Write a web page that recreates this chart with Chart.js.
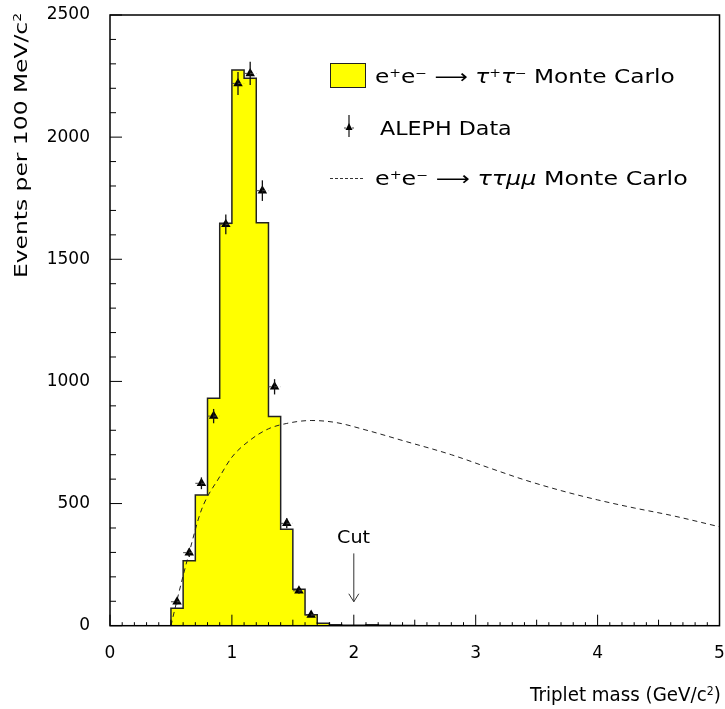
<!DOCTYPE html>
<html>
<head>
<meta charset="utf-8">
<script src="https://cdn.jsdelivr.net/npm/chart.js@4.4.1/dist/chart.umd.min.js"></script>
<style>
  body { margin: 0; background: #fff; }
  #wrap { position: relative; width: 725px; height: 709px; }
  #wrap canvas { position: absolute; left: 0; top: 0; }
  .txt { position: absolute; white-space: nowrap; font-family: "DejaVu Sans", sans-serif; color: #000; line-height: 1; }
  .txt sup { font-size: 0.6em; vertical-align: 0.55em; line-height: 0; }
  .swatch { position: absolute; left: 330px; top: 63px; width: 34px; height: 23px; background: #ffff00; border: 1px solid #222; }
  .dash { position: absolute; left: 330px; top: 178px; width: 33px; border-top: 1px dashed #333; }
</style>
</head>
<body>
<div id="wrap">
  <canvas id="chart" width="725" height="709"></canvas>
  <div class="swatch"></div>
  <svg style="position:absolute;left:340px;top:112px" width="20" height="28">
    <line x1="9" y1="3" x2="9" y2="25" stroke="#111" stroke-width="1.2"/>
    <line x1="4" y1="16" x2="14" y2="16" stroke="#444" stroke-width="1" stroke-dasharray="2,2"/>
    <polygon points="9,11 12.5,18 5.5,18" fill="#000"/>
  </svg>
  <div class="dash"></div>
  <div class="txt" id="leg1" style="font-size:19px">e<sup>+</sup>e<sup>−</sup> <span>⟶</span> <i>τ</i><sup>+</sup><i>τ</i><sup>−</sup> Monte Carlo</div>
  <div class="txt" id="leg2" style="font-size:19px">ALEPH Data</div>
  <div class="txt" id="leg3" style="font-size:19px">e<sup>+</sup>e<sup>−</sup> <span>⟶</span> <i>ττμμ</i> Monte Carlo</div>
  <div class="txt" id="cut" style="font-size:18px">Cut</div>
  <div class="txt" id="xtitle" style="font-size:19px">Triplet mass (GeV/c<sup>2</sup>)</div>
  <div class="txt" id="ytitle" style="font-size:18px">Events per 100 MeV/c<sup>2</sup></div>
</div>
<script>
// tau+tau- Monte Carlo histogram, left bin edges (GeV/c^2) and counts
const binEdges = [0.5, 0.6, 0.7, 0.8, 0.9, 1.0, 1.1, 1.2, 1.3, 1.4, 1.5, 1.6, 1.7, 1.8, 1.9, 2.0, 2.1, 2.2, 2.3, 2.4];
const mcCounts = [71, 266, 535, 931, 1647, 2275, 2241, 1650, 856, 395, 149, 45, 10, 4, 2, 2, 4, 2, 1, 1];
const binWidth = 0.1;

// ALEPH data points
const dataMass = [0.55, 0.65, 0.75, 0.85, 0.95, 1.05, 1.15, 1.25, 1.35, 1.45, 1.55, 1.65];
const dataCounts = [98, 299, 583, 858, 1643, 2220, 2261, 1781, 978, 419, 143, 44];

// tau tau mu mu Monte Carlo (dashed curve)
const curveMass = [0.5, 0.55, 0.65, 0.75, 0.9, 1.0, 1.15, 1.3, 1.45, 1.65, 1.85, 2.1, 2.4, 2.8, 3.1, 3.4, 3.7, 4.0, 4.3, 4.6, 5.0];
const curveCounts = [0, 105, 300, 474, 610, 690, 760, 806, 828, 840, 832, 801, 758, 700, 648, 597, 553, 515, 482, 452, 405];

const cutMass = 2.0;
const xTicks = [0, 1, 2, 3, 4, 5];
const yTicks = [0, 500, 1000, 1500, 2000, 2500];

// build step points for the histogram
const histPoints = [{ x: 0, y: 0 }];
binEdges.forEach((e, i) => histPoints.push({ x: e, y: mcCounts[i] }));
histPoints.push({ x: binEdges[binEdges.length - 1] + binWidth, y: 0 });
histPoints.push({ x: 5, y: 0 });

const dataPoints = dataMass.map((m, i) => ({ x: m, y: dataCounts[i] }));
const curvePoints = curveMass.map((m, i) => ({ x: m, y: curveCounts[i] }));

const framePlugin = {
  id: "frame",
  afterDatasetsDraw(chart) {
    const ctx = chart.ctx, xs = chart.scales.x, ys = chart.scales.y;
    // error bars
    ctx.save();
    dataMass.forEach((m, i) => {
      const px = xs.getPixelForValue(m);
      const err = Math.sqrt(dataCounts[i]);
      ctx.strokeStyle = "#111";
      ctx.lineWidth = 1.3;
      ctx.setLineDash([]);
      ctx.beginPath();
      ctx.moveTo(px, ys.getPixelForValue(dataCounts[i] + err));
      ctx.lineTo(px, ys.getPixelForValue(dataCounts[i] - err));
      ctx.stroke();
      ctx.strokeStyle = "#444";
      ctx.lineWidth = 1;
      ctx.setLineDash([3, 3]);
      const py = ys.getPixelForValue(dataCounts[i]);
      ctx.beginPath();
      ctx.moveTo(xs.getPixelForValue(m - binWidth / 2), py);
      ctx.lineTo(xs.getPixelForValue(m + binWidth / 2), py);
      ctx.stroke();
    });
    ctx.restore();
  },
  afterDraw(chart) {
    const ctx = chart.ctx, a = chart.chartArea, xs = chart.scales.x, ys = chart.scales.y;
    ctx.save();
    ctx.strokeStyle = "#000";
    ctx.lineWidth = 1.5;
    ctx.strokeRect(a.left, a.top, a.right - a.left, a.bottom - a.top);
    ctx.lineWidth = 1;
    ctx.beginPath();
    for (let k = 0; k <= 50; k++) {
      const px = xs.getPixelForValue(k / 10);
      const len = k % 10 === 0 ? 11 : (k % 5 === 0 ? 6 : 3.5);
      ctx.moveTo(px, a.bottom);
      ctx.lineTo(px, a.bottom - len);
    }
    for (let v = 0; v <= 2500; v += 100) {
      const py = ys.getPixelForValue(v);
      const len = v % 500 === 0 ? 12 : 6;
      ctx.moveTo(a.left, py);
      ctx.lineTo(a.left + len, py);
    }
    ctx.stroke();
    // cut arrow
    const cx = xs.getPixelForValue(cutMass);
    const y1 = ys.getPixelForValue(296), y2 = ys.getPixelForValue(98);
    ctx.strokeStyle = "#333";
    ctx.beginPath();
    ctx.moveTo(cx, y1);
    ctx.lineTo(cx, y2);
    ctx.moveTo(cx - 5, y2 - 8);
    ctx.lineTo(cx, y2);
    ctx.lineTo(cx + 5, y2 - 8);
    ctx.stroke();
    ctx.restore();
  }
};

new Chart(document.getElementById("chart"), {
  type: "scatter",
  data: {
    datasets: [
      {
        label: "ALEPH Data",
        data: dataPoints,
        pointStyle: "triangle",
        pointRadius: 5.5,
        backgroundColor: "#000",
        borderColor: "#000",
        borderWidth: 0,
        order: 0
      },
      {
        type: "line",
        label: "ttmumu Monte Carlo",
        data: curvePoints,
        borderColor: "#222",
        borderWidth: 1,
        borderDash: [5, 4],
        pointRadius: 0,
        cubicInterpolationMode: "monotone",
        fill: false,
        order: 1
      },
      {
        type: "line",
        label: "tautau Monte Carlo",
        data: histPoints,
        stepped: "before",
        borderColor: "#222",
        borderWidth: 1.5,
        backgroundColor: "#ffff00",
        pointRadius: 0,
        fill: "origin",
        order: 2
      }
    ]
  },
  options: {
    responsive: false,
    animation: false,
    events: [],
    layout: { padding: { top: 15, right: 3, left: 0, bottom: 0 } },
    plugins: { legend: { display: false }, tooltip: { enabled: false } },
    scales: {
      x: {
        type: "linear",
        min: 0, max: 5,
        afterFit(s) { s.height = 83.3; s.paddingLeft = 0; s.paddingRight = 0; },
        afterBuildTicks(s) { s.ticks = xTicks.map(v => ({ value: v })); },
        grid: { display: false, drawTicks: false },
        border: { display: false },
        ticks: { color: "#000", font: { family: "DejaVu Sans", size: 17 }, padding: 18, maxRotation: 0, callback: v => String(v) }
      },
      y: {
        type: "linear",
        min: 0, max: 2500,
        afterFit(s) { s.width = 110; s.paddingTop = 0; s.paddingBottom = 0; },
        afterBuildTicks(s) { s.ticks = yTicks.map(v => ({ value: v })); },
        grid: { display: false, drawTicks: false },
        border: { display: false },
        ticks: { color: "#000", font: { family: "DejaVu Sans", size: 17 }, padding: 20, callback: v => String(v) }
      }
    }
  },
  plugins: [framePlugin]
});

// place overlay texts: left edge, centre y, target width
function place(id, left, cy, w) {
  const el = document.getElementById(id);
  const k = w / el.offsetWidth;
  el.style.left = left + "px";
  el.style.top = (cy - el.offsetHeight / 2) + "px";
  el.style.transformOrigin = "0 50%";
  el.style.transform = "scaleX(" + k + ")";
}
place("leg1", 375, 76, 300);
place("leg2", 380, 128, 132);
place("leg3", 375, 178, 313);
place("cut", 337, 537, 33);
place("xtitle", 530, 694, 191);

const yt = document.getElementById("ytitle");
const ytk = 265 / yt.offsetWidth;
yt.style.left = "21px";
yt.style.top = (278 - yt.offsetHeight / 2) + "px";
yt.style.transformOrigin = "0 50%";
yt.style.transform = "rotate(-90deg) scaleX(" + ytk + ")";
</script>
</body>
</html>
